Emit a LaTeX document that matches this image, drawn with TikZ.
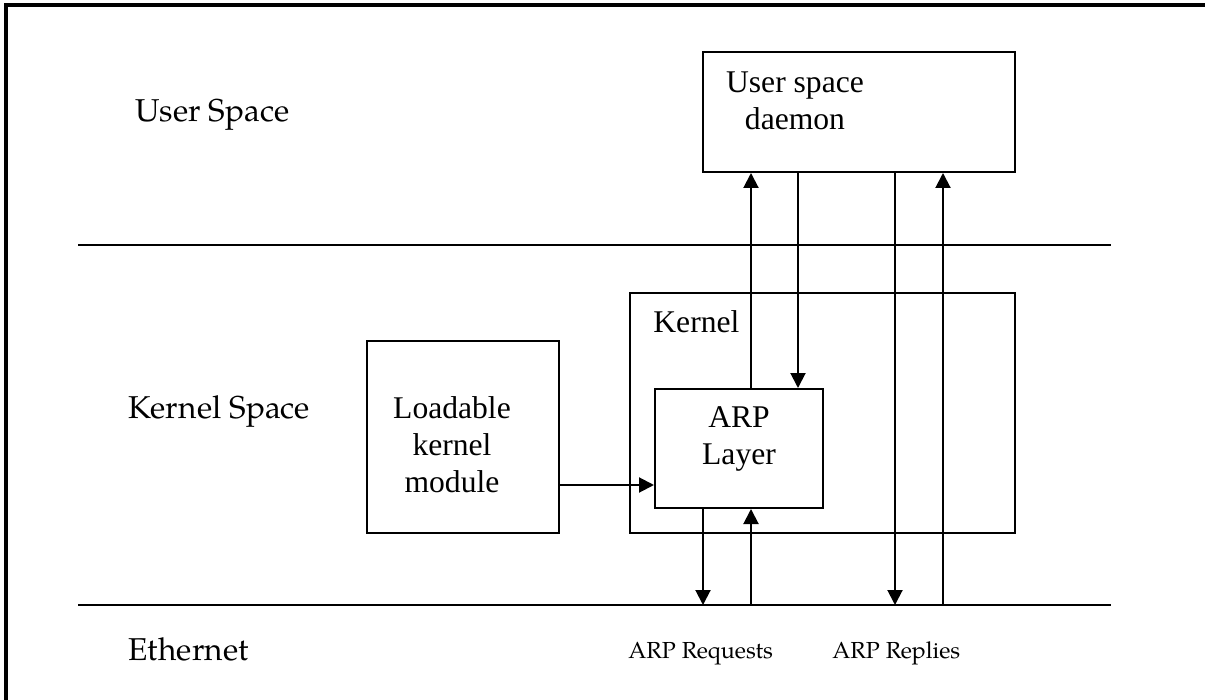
\documentclass[tikz,border=0pt]{standalone}
\usepackage{fontspec}
\setmainfont{Liberation Serif}
\newfontfamily\layerfont{TeX Gyre Pagella}
\usetikzlibrary{arrows.meta}
\begin{document}
\begin{tikzpicture}[x=0.5pt,y=-0.5pt,
  box/.style={draw, line width=1pt, rectangle, inner sep=0pt},
  boxtext/.style={inner sep=0pt, align=center, font=\fontsize{15.8}{18.5}\selectfont},
  plain/.style={inner sep=0pt, anchor=base west, font=\fontsize{15.8}{18.5}\selectfont},
  layer/.style={inner sep=0pt, anchor=base west, font=\layerfont\fontsize{15.8}{18.5}\selectfont},
  small/.style={inner sep=0pt, anchor=base west, font=\layerfont\fontsize{11.6}{14}\selectfont},
  rule/.style={line width=1pt},
  frame/.style={line width=2pt},
  arr/.style={line width=1pt, -{Triangle[length=7.5pt,width=7.5pt]}}]
  \useasboundingbox (0,0) rectangle (1205,700);

  % outer frame (top and left edges)
  \coordinate (fTL) at (6,5);
  \coordinate (fTR) at (1205,5);
  \coordinate (fBL) at (6,700);
  \draw[frame] (fTR) -- (fTL) -- (fBL);

  % layer separators
  \coordinate (sepL) at (78,245);
  \coordinate (sepR) at (1111,245);
  \coordinate (ethL) at (78,605);
  \coordinate (ethR) at (1111,605);
  \draw[rule] (sepL) -- (sepR);
  \draw[rule] (ethL) -- (ethR);

  % layer names
  \node[layer] (lblUser) at (135,122) {User Space};
  \node[layer] (lblKernel) at (128,418) {Kernel Space};
  \node[layer] (lblEth) at (128,660) {Ethernet};

  % boxes
  \node[box, minimum width=156pt, minimum height=60pt] (daemon) at (859,112) {};
  \node[boxtext] (daemonTxt) at (795,101) {User space\\daemon};

  \node[box, minimum width=192.5pt, minimum height=120pt] (kernel) at (822.5,413) {};
  \node[plain] (kernelTxt) at (653,333) {Kernel};

  \node[box, minimum width=84pt, minimum height=59.5pt] (arp) at (739,448.5) {};
  \node[boxtext] (arpTxt) at (739,439.3) {ARP\\Layer};

  \node[box, minimum width=96pt, minimum height=96pt] (lkm) at (463,437) {};
  \node[boxtext] (lkmTxt) at (452,444.2) {Loadable\\kernel\\module};

  % connector columns
  \coordinate (cE) at (703,0);
  \coordinate (cA) at (751,0);
  \coordinate (cB) at (798,0);
  \coordinate (cC) at (895,0);
  \coordinate (cD) at (943,0);
  \coordinate (rowM) at (0,485);

  \draw[arr] (lkm.east |- rowM) -- (arp.west |- rowM);
  \draw[arr] (arp.north -| cA) -- (daemon.south -| cA);
  \draw[arr] (daemon.south -| cB) -- (arp.north -| cB);
  \draw[arr] (daemon.south -| cC) -- (ethL -| cC);
  \draw[arr] (ethL -| cD) -- (daemon.south -| cD);
  \draw[arr] (arp.south -| cE) -- (ethL -| cE);
  \draw[arr] (ethL -| cA) -- (arp.south -| cA);

  % traffic labels
  \node[small] (lblReq) at (628,658) {ARP Requests};
  \node[small] (lblRep) at (832,658) {ARP Replies};
\end{tikzpicture}
\end{document}
